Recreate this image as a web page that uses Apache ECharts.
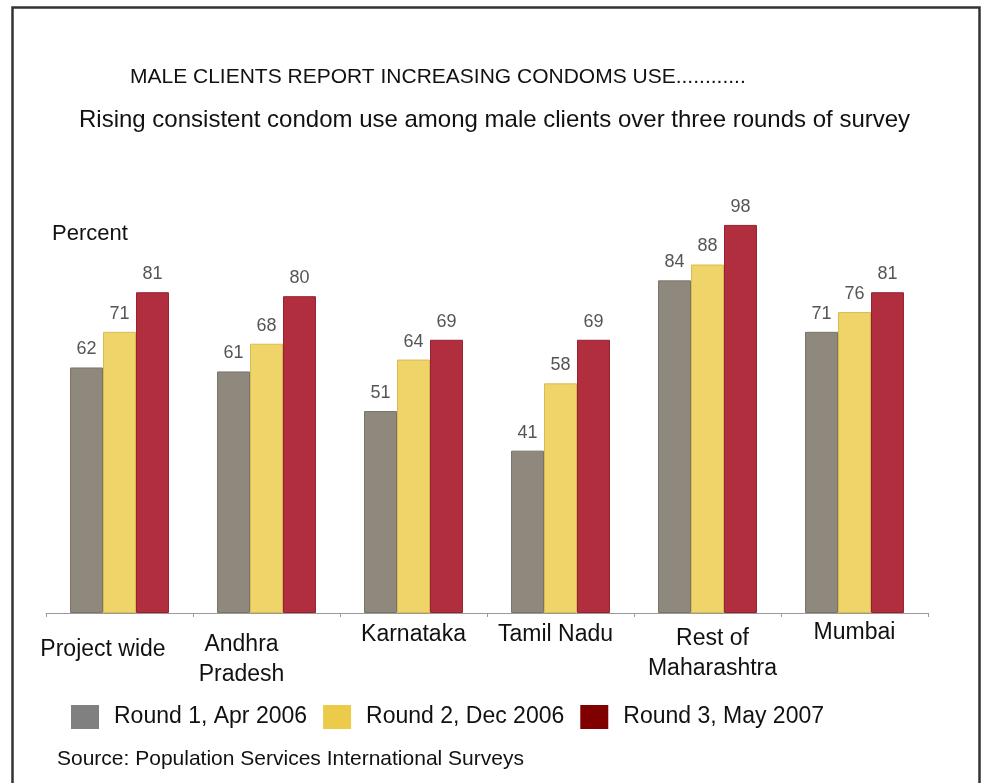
<!DOCTYPE html>
<html>
<head>
<meta charset="utf-8">
<script src="https://cdn.jsdelivr.net/npm/echarts@6/dist/echarts.min.js"></script>
<style>
  html, body { margin: 0; padding: 0; background: #ffffff; }
  #chart { width: 987px; height: 783px; }
</style>
</head>
<body>
<div id="chart"></div>
<script>
// Consistent condom use among male clients, percent, by survey round
const categories = ['Project wide', 'Andhra\nPradesh', 'Karnataka', 'Tamil Nadu', 'Rest of\nMaharashtra', 'Mumbai'];
const round1 = [62, 61, 51, 41, 84, 71];
const round2 = [71, 68, 64, 58, 88, 76];
const round3 = [81, 80, 69, 69, 98, 81];
const seriesNames = ['Round 1, Apr 2006', 'Round 2, Dec 2006', 'Round 3, May 2007'];

const FONT = '"Liberation Sans", Arial, sans-serif';

// per-category label placement below the axis: [top, right, bottom, left] padding
const labelPadding = [
  [22, 33, 0, 0],
  [17, 50, 0, 0],
  [7, 0, 0, 0],
  [7, 10, 0, 0],
  [11, 0, 0, 10],
  [5, 0, 0, 0]
];

const barColors = ['#8f887d', '#efd469', '#b12e3f'];
const barBorders = ['#7a7368', '#d9bb50', '#96202f'];
const legendColors = ['#808080', '#eccb4a', '#800000'];

function makeSeries(name, values, idx) {
  return {
    name: name,
    type: 'bar',
    data: values,
    barGap: '0%',
    barCategoryGap: '32.7%',
    itemStyle: {
      color: barColors[idx],
      borderColor: barBorders[idx],
      borderWidth: 1
    },
    label: {
      show: true,
      position: 'top',
      distance: 9,
      color: '#555555',
      fontFamily: FONT,
      fontSize: 18
    }
  };
}

const chart = echarts.init(document.getElementById('chart'), null, { renderer: 'canvas' });

chart.setOption({
  animation: false,
  backgroundColor: '#ffffff',
  title: [
    {
      text: 'MALE CLIENTS REPORT INCREASING CONDOMS USE............',
      left: 130, top: 66, padding: 0,
      textStyle: { fontFamily: FONT, fontSize: 21, fontWeight: 'normal', color: '#111111', lineHeight: 22 }
    },
    {
      text: 'Rising consistent condom use among male clients over three rounds of survey',
      left: 79, top: 107, padding: 0,
      textStyle: { fontFamily: FONT, fontSize: 24, fontWeight: 'normal', color: '#111111', lineHeight: 26 }
    },
    {
      text: 'Percent',
      left: 52, top: 222, padding: 0,
      textStyle: { fontFamily: FONT, fontSize: 22, fontWeight: 'normal', color: '#111111', lineHeight: 24 }
    },
    {
      text: 'Source: Population Services International Surveys',
      left: 57, top: 748, padding: 0,
      textStyle: { fontFamily: FONT, fontSize: 21, fontWeight: 'normal', color: '#111111', lineHeight: 22 }
    }
  ],
  legend: {
    left: 71, top: 705, padding: 0,
    itemWidth: 28, itemHeight: 24, itemGap: 16,
    icon: 'rect',
    selectedMode: false,
    textStyle: { fontFamily: FONT, fontSize: 23, color: '#111111', padding: [0, 0, 0, 10] },
    data: seriesNames.map((n, i) => ({ name: n, itemStyle: { color: legendColors[i], borderWidth: 0 } }))
  },
  grid: { left: 46, right: 59, top: 217, bottom: 170, containLabel: false },
  xAxis: {
    type: 'category',
    data: categories.map((c, i) => ({
      value: c,
      textStyle: { padding: labelPadding[i] }
    })),
    axisLine: { show: true, lineStyle: { color: '#9a9a9a', width: 1 } },
    axisTick: { show: true, length: 4, lineStyle: { color: '#9a9a9a' } },
    axisLabel: {
      interval: 0,
      margin: 0,
      fontFamily: FONT,
      fontSize: 23,
      lineHeight: 30,
      color: '#111111'
    }
  },
  yAxis: {
    type: 'value',
    min: 0, max: 100,
    show: false,
    splitLine: { show: false }
  },
  series: [
    makeSeries(seriesNames[0], round1, 0),
    makeSeries(seriesNames[1], round2, 1),
    makeSeries(seriesNames[2], round3, 2)
  ],
  graphic: [
    {
      type: 'rect',
      shape: { x: 12.5, y: 7.5, width: 967, height: 800 },
      style: { fill: 'none', stroke: '#333333', lineWidth: 2.5 },
      silent: true
    }
  ]
});
</script>
</body>
</html>
